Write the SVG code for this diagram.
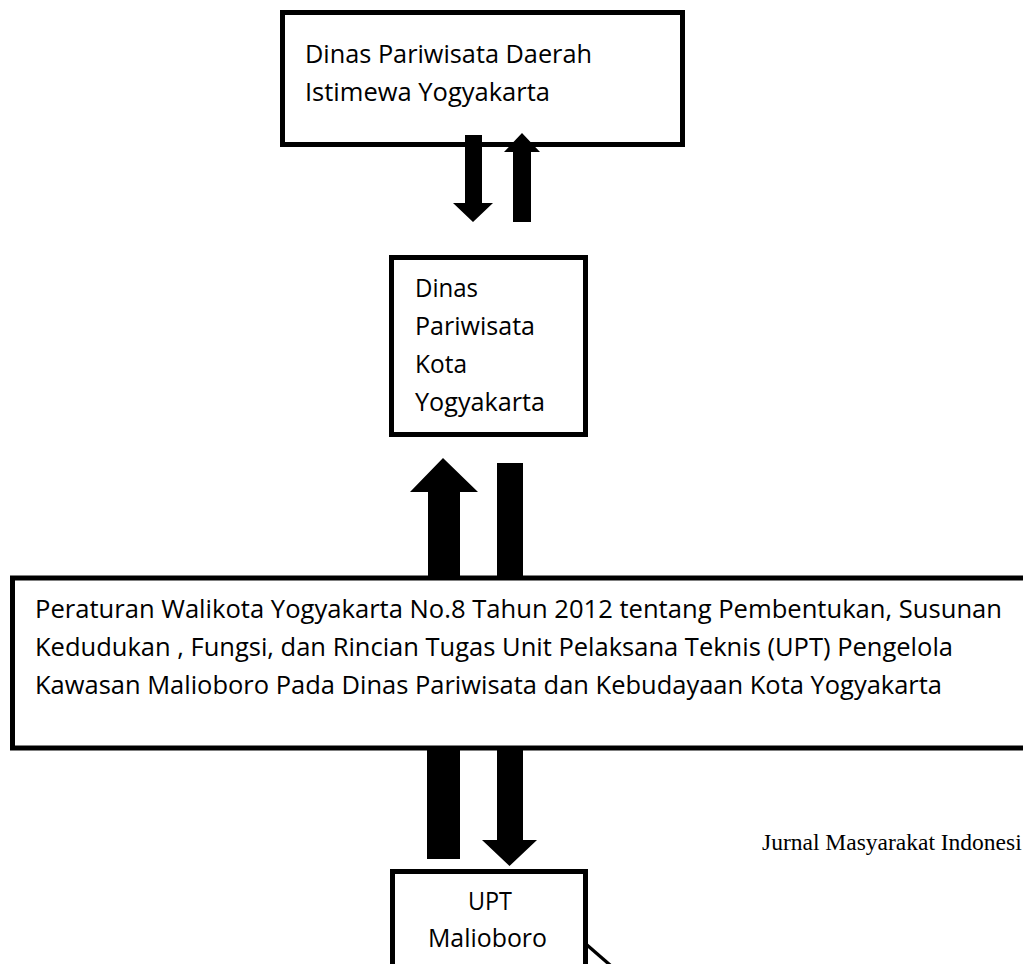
<svg xmlns="http://www.w3.org/2000/svg" width="1023" height="964" viewBox="0 0 1023 964">
<style>
.box{fill:#fff;stroke:#000;stroke-width:5}
.t{font-family:"Open Sans","Liberation Sans",sans-serif;font-size:25px;fill:#000}
.arr{fill:#000;stroke:none}
.j{font-family:"Liberation Serif","Times New Roman",serif;font-size:23.5px;fill:#000}
</style>
<rect width="1023" height="964" fill="#fff"/>
<g id="node-dinas-diy">
<rect class="box" x="282.5" y="12.5" width="400" height="132"/>
<text class="t" x="305" y="63" textLength="287" lengthAdjust="spacingAndGlyphs">Dinas Pariwisata Daerah</text>
<text class="t" x="305" y="101" textLength="245" lengthAdjust="spacingAndGlyphs">Istimewa Yogyakarta</text>
</g>
<g id="node-dinas-kota">
<rect class="box" x="391.5" y="257.5" width="194" height="177"/>
<text class="t" x="415" y="297" textLength="63" lengthAdjust="spacingAndGlyphs">Dinas</text>
<text class="t" x="415" y="335" textLength="120" lengthAdjust="spacingAndGlyphs">Pariwisata</text>
<text class="t" x="415" y="373" textLength="52" lengthAdjust="spacingAndGlyphs">Kota</text>
<text class="t" x="415" y="411" textLength="130" lengthAdjust="spacingAndGlyphs">Yogyakarta</text>
</g>
<g id="node-perwal">
<rect class="box" x="12.5" y="578" width="1030" height="170"/>
<text class="t" x="35" y="618" textLength="967" lengthAdjust="spacingAndGlyphs">Peraturan Walikota Yogyakarta No.8 Tahun 2012 tentang Pembentukan, Susunan</text>
<text class="t" x="35" y="656" textLength="918" lengthAdjust="spacingAndGlyphs">Kedudukan , Fungsi, dan Rincian Tugas Unit Pelaksana Teknis (UPT) Pengelola</text>
<text class="t" x="35" y="694" textLength="907" lengthAdjust="spacingAndGlyphs">Kawasan Malioboro Pada Dinas Pariwisata dan Kebudayaan Kota Yogyakarta</text>
</g>
<g id="node-upt">
<rect class="box" x="392.5" y="871.5" width="193" height="120"/>
<text class="t" x="468" y="910" textLength="44" lengthAdjust="spacingAndGlyphs">UPT</text>
<text class="t" x="428" y="947" textLength="119" lengthAdjust="spacingAndGlyphs">Malioboro</text>
</g>
<g id="connectors">
<polygon class="arr" points="465,135 482,135 482,203 493,203 473,222 453,203 465,203"/>
<polygon class="arr" points="513,222 531,222 531,152 540,152 522,133 504,152 513,152"/>
<polygon class="arr" points="428,578 460,578 460,492 478,492 443,458 410,492 428,492"/>
<rect class="arr" x="497" y="463" width="26" height="115"/>
<rect class="arr" x="427" y="748" width="33" height="111"/>
<polygon class="arr" points="497,748 523,748 523,840 537,840 509.5,866 482,840 497,840"/>
<line x1="587" y1="945" x2="625" y2="978" stroke="#000" stroke-width="3.3"/>
</g>
<text class="j" x="762" y="850">Jurnal Masyarakat Indonesi</text>
</svg>
